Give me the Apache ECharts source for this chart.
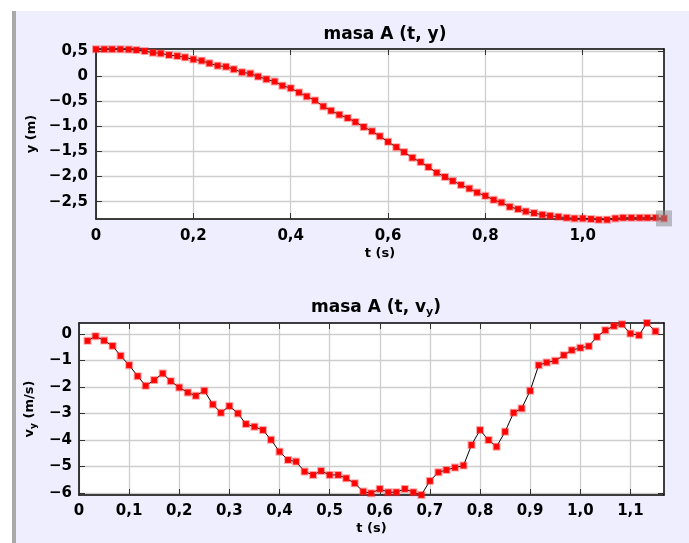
<!DOCTYPE html>
<html>
<head>
<meta charset="utf-8">
<script src="https://cdn.jsdelivr.net/npm/echarts@6/dist/echarts.min.js"></script>
<style>
html, body { margin: 0; padding: 0; background: #fff; }
#panel { position: absolute; left: 12px; top: 11px; width: 673px; height: 532px; background: #eeeeff; border-left: 4px solid #a9a9a9; }
#chart { position: absolute; left: 0; top: 0; width: 689px; height: 543px; }
</style>
</head>
<body>
<div id="panel"></div>
<div id="chart"></div>
<script>
// tiempos de muestreo (s)
var times = [0, 0.017, 0.033, 0.05, 0.067, 0.083, 0.1, 0.117, 0.133, 0.15,
	0.167, 0.183, 0.2, 0.217, 0.233, 0.25, 0.267, 0.283, 0.3, 0.317,
	0.333, 0.35, 0.367, 0.383, 0.4, 0.417, 0.433, 0.45, 0.467, 0.483,
	0.5, 0.517, 0.533, 0.55, 0.567, 0.583, 0.6, 0.617, 0.633, 0.65,
	0.667, 0.683, 0.7, 0.717, 0.733, 0.75, 0.767, 0.783, 0.8, 0.817,
	0.833, 0.85, 0.867, 0.883, 0.9, 0.917, 0.933, 0.95, 0.967, 0.983,
	1.0, 1.017, 1.033, 1.05, 1.067, 1.083, 1.1, 1.117, 1.133, 1.15, 1.167];
// posicion y (m), t = 0 .. 1.167
var posY = [0.53, 0.53, 0.53, 0.53, 0.525, 0.514, 0.494, 0.461, 0.448, 0.415,
	0.395, 0.369, 0.329, 0.303, 0.25, 0.204, 0.184, 0.132, 0.073, 0.046,
	-0.013, -0.066, -0.112, -0.194, -0.244, -0.329, -0.408, -0.488, -0.606, -0.692,
	-0.771, -0.837, -0.916, -1.015, -1.1, -1.199, -1.311, -1.416, -1.515, -1.627,
	-1.713, -1.812, -1.924, -2.009, -2.088, -2.167, -2.24, -2.319, -2.385, -2.464,
	-2.517, -2.603, -2.648, -2.694, -2.727, -2.76, -2.78, -2.8, -2.82, -2.833,
	-2.833, -2.846, -2.859, -2.859, -2.833, -2.82, -2.82, -2.82, -2.82, -2.82, -2.833];
// velocidad vy (m/s), t = 0.017 .. 1.15
var velY = [-0.263, -0.088, -0.252, -0.452, -0.827, -1.178, -1.592, -1.955, -1.742, -1.492,
	-1.78, -2.019, -2.207, -2.332, -2.144, -2.658, -2.971, -2.72, -2.996, -3.397,
	-3.497, -3.623, -3.99, -4.437, -4.75, -4.812, -5.188, -5.314, -5.164, -5.314,
	-5.314, -5.44, -5.628, -5.941, -6.004, -5.841, -5.966, -5.966, -5.841, -5.966,
	-6.066, -5.54, -5.214, -5.127, -5.038, -4.96, -4.187, -3.623, -3.999, -4.249,
	-3.685, -2.971, -2.808, -2.144, -1.178, -1.079, -1.016, -0.803, -0.615, -0.527,
	-0.465, -0.114, 0.137, 0.3, 0.362, 0.011, -0.051, 0.412, 0.099];
var xTicksTop = [0, 0.2, 0.4, 0.6, 0.8, 1.0];
var yTicksTop = [0.5, 0, -0.5, -1, -1.5, -2, -2.5];
var xTicksBottom = [0, 0.1, 0.2, 0.3, 0.4, 0.5, 0.6, 0.7, 0.8, 0.9, 1.0, 1.1];
var yTicksBottom = [0, -1, -2, -3, -4, -5, -6];

var font = 'DejaVu Sans';

function fmt(v, dec) {
	if (v === 0) return '0';
	return v.toFixed(dec).replace('.', ',').replace('-', '\u2212');
}

function pairs(xs, ys) {
	var out = [];
	for (var i = 0; i < ys.length; i++) out.push([xs[i], ys[i]]);
	return out;
}

function makeAxis(opt) {
	var mirror = opt.mirror;
	return {
		type: 'value',
		gridIndex: opt.grid,
		position: opt.position,
		min: opt.min,
		max: opt.max,
		name: mirror ? '' : opt.name,
		nameLocation: 'middle',
		nameGap: opt.nameGap,
		nameTextStyle: opt.nameStyle,
		axisLine: { show: true, onZero: false, lineStyle: { color: '#000', width: 1.5 } },
		axisTick: {
			show: true, inside: true, length: 6, customValues: opt.ticks,
			lineStyle: { color: '#333', width: 1 }
		},
		axisLabel: {
			show: !mirror, customValues: opt.ticks, margin: opt.margin,
			fontFamily: font, fontWeight: 'bold', fontSize: 15, color: '#000',
			formatter: function(v) { return fmt(v, opt.dec); }
		},
		splitLine: { show: !mirror, lineStyle: { color: '#cdcdcd', width: 1.3 } }
	};
}

var tLast = times[times.length - 1];
var nameStyle = { fontFamily: font, fontWeight: 'bold', fontSize: 13, color: '#000' };

var myChart = echarts.init(document.getElementById('chart'));
var option = {
	animation: false,
	title: [{
		text: 'masa A (t, y)',
		left: 380, top: 21, textAlign: 'center',
		textStyle: { fontFamily: font, fontWeight: 'bold', fontSize: 17, color: '#000' }
	}, {
		text: '{n|masa A (t, v}{s|y}{n|)}',
		left: 371, top: 293, textAlign: 'center',
		textStyle: {
			rich: {
				n: { fontFamily: font, fontWeight: 'bold', fontSize: 17, color: '#000', lineHeight: 20 },
				s: { fontFamily: font, fontWeight: 'bold', fontSize: 11, color: '#000', padding: [9, 0, 0, 0] }
			}
		}
	}],
	grid: [
		{ left: 96, right: 25, top: 49, height: 170, show: true, backgroundColor: '#fff', borderWidth: 0 },
		{ left: 79, right: 25, top: 323, height: 172, show: true, backgroundColor: '#fff', borderWidth: 0 }
	],
	xAxis: [
		makeAxis({ grid: 0, position: 'bottom', min: 0, max: tLast, ticks: xTicksTop, dec: 1, margin: 10,
			name: 't (s)', nameGap: 28, nameStyle: nameStyle }),
		makeAxis({ grid: 0, position: 'top', min: 0, max: tLast, ticks: xTicksTop, mirror: true }),
		makeAxis({ grid: 1, position: 'bottom', min: 0, max: tLast, ticks: xTicksBottom, dec: 1, margin: 9,
			name: 't (s)', nameGap: 27, nameStyle: nameStyle }),
		makeAxis({ grid: 1, position: 'top', min: 0, max: tLast, ticks: xTicksBottom, mirror: true })
	],
	yAxis: [
		makeAxis({ grid: 0, position: 'left', min: -2.845, max: 0.535, ticks: yTicksTop, dec: 1, margin: 8,
			name: 'y (m)', nameGap: 58, nameStyle: nameStyle }),
		makeAxis({ grid: 0, position: 'right', min: -2.845, max: 0.535, ticks: yTicksTop, mirror: true }),
		makeAxis({ grid: 1, position: 'left', min: -6.07, max: 0.41, ticks: yTicksBottom, dec: 0, margin: 7,
			name: '{n|v}{s|y}{n| (m/s)}', nameGap: 38, nameStyle: { rich: {
				n: { fontFamily: font, fontWeight: 'bold', fontSize: 13, color: '#000', lineHeight: 16 },
				s: { fontFamily: font, fontWeight: 'bold', fontSize: 9, color: '#000', padding: [7, 0, 0, 0] }
			} } }),
		makeAxis({ grid: 1, position: 'right', min: -6.07, max: 0.41, ticks: yTicksBottom, mirror: true })
	],
	series: [{
		type: 'line',
		xAxisIndex: 0, yAxisIndex: 0,
		data: pairs(times, posY),
		clip: false,
		symbol: 'rect', symbolSize: 6,
		lineStyle: { color: '#000', width: 1 },
		itemStyle: { color: '#ff0000', borderColor: 'rgba(255,40,40,0.4)', borderWidth: 2 },
		markPoint: {
			symbol: 'rect', symbolSize: 16,
			label: { show: false },
			itemStyle: { color: 'rgba(140,140,140,0.55)' },
			data: [{ coord: [tLast, posY[posY.length - 1]] }]
		}
	}, {
		type: 'line',
		xAxisIndex: 2, yAxisIndex: 2,
		data: pairs(times.slice(1, 70), velY),
		clip: false,
		symbol: 'rect', symbolSize: 6,
		lineStyle: { color: '#000', width: 1 },
		itemStyle: { color: '#ff0000', borderColor: 'rgba(255,40,40,0.4)', borderWidth: 2 }
	}]
};
myChart.setOption(option);
</script>
</body>
</html>
